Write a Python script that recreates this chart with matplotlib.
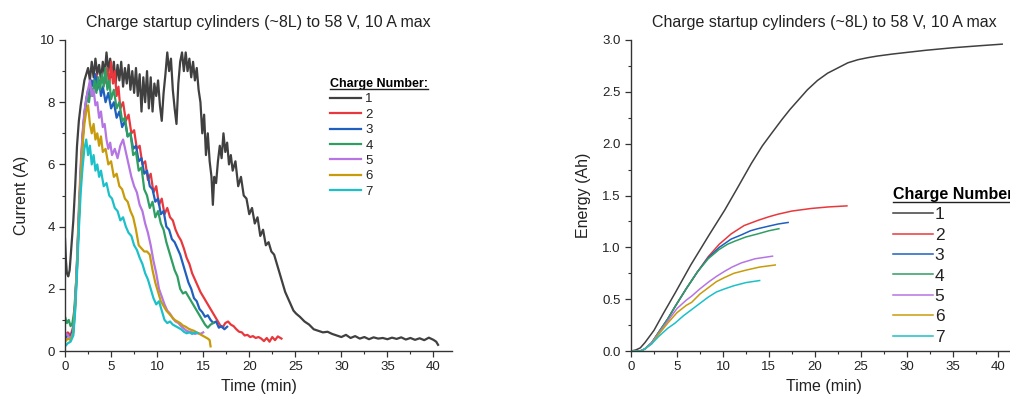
import matplotlib
matplotlib.use("Agg")
import matplotlib.pyplot as plt
from matplotlib.lines import Line2D
from matplotlib.ticker import MultipleLocator

plt.rcParams["font.family"] = ["Liberation Sans", "DejaVu Sans"]

TITLE = "Charge startup cylinders (~8L) to 58 V, 10 A max"
LABELS = ["1", "2", "3", "4", "5", "6", "7"]
COLORS = ["#404040", "#e8383d", "#1f5fc0", "#2f9e63", "#b575e3", "#c89b0a", "#1cc0c8"]

# ---- current traces (left panel) ----
t1 = [0.0, 0.1, 0.2, 0.35, 0.5, 0.7, 0.9, 1.1, 1.3, 1.5, 1.7, 1.9, 2.1, 2.3, 2.5, 2.7, 2.9, 3.1,
      3.3, 3.5, 3.7, 3.9, 4.1, 4.3, 4.5, 4.7, 4.9, 5.1, 5.3, 5.5, 5.7, 5.9, 6.1, 6.3, 6.5, 6.7,
      6.9, 7.1, 7.3, 7.5, 7.7, 7.9, 8.1, 8.3, 8.5, 8.7, 8.9, 9.1, 9.3, 9.5, 9.7, 9.9, 10.1, 10.3,
      10.5, 10.7, 10.9, 11.1, 11.3, 11.5, 11.7, 11.9, 12.1, 12.3, 12.5, 12.7, 12.9, 13.1, 13.3,
      13.5, 13.7, 13.9, 14.1, 14.3, 14.5, 14.7, 14.9, 15.1, 15.3, 15.5, 15.7, 15.9, 16.05, 16.2,
      16.4, 16.6, 16.8, 17.0, 17.2, 17.4, 17.6, 17.8, 18.0, 18.2, 18.5, 18.8, 19.1, 19.4, 19.7,
      20.0, 20.3, 20.6, 20.9, 21.2, 21.5, 21.8, 22.1, 22.4, 22.7, 23.0, 23.3, 23.6, 23.9, 24.2,
      24.5, 24.8, 25.1, 25.5, 26.0, 26.5, 27.0, 27.5, 28.0, 28.5, 29.0, 29.5, 30.0, 30.5, 31.0,
      31.5, 32.0, 32.5, 33.0, 33.5, 34.0, 34.5, 35.0, 35.5, 36.0, 36.5, 37.0, 37.5, 38.0, 38.5,
      39.0, 39.5, 40.0, 40.3, 40.5]
i1 = [3.6, 2.9, 2.5, 2.4, 2.6, 3.4, 4.2, 5.3, 6.6, 7.4, 7.9, 8.3, 8.7, 8.9, 9.1, 8.7, 9.3, 8.8,
      9.4, 8.9, 9.2, 8.7, 9.3, 8.9, 9.6, 9.0, 9.4, 8.8, 9.3, 8.6, 9.2, 8.7, 9.3, 8.5, 9.1, 8.6,
      9.2, 8.4, 9.0, 8.3, 9.1, 8.2, 8.9, 7.7, 8.8, 8.0, 9.0, 7.8, 8.8, 7.7, 8.6, 8.2, 8.7, 7.9,
      7.4, 8.3, 8.9, 9.6, 9.0, 9.4, 8.4, 7.8, 7.3, 8.6, 9.3, 9.6, 9.0, 9.6, 9.0, 9.4, 8.8, 9.3,
      8.7, 9.1, 8.4, 8.0, 7.0, 7.6, 6.3, 7.0, 6.1, 5.6, 4.7, 5.6, 5.4, 6.1, 6.6, 6.2, 7.0, 6.4,
      6.7, 6.0, 6.3, 5.8, 6.1, 5.3, 5.6, 5.0, 4.9, 4.4, 4.6, 4.1, 4.3, 3.7, 3.9, 3.4, 3.5, 3.2,
      3.1, 2.8, 2.5, 2.2, 1.9, 1.7, 1.5, 1.3, 1.2, 1.1, 0.95, 0.85, 0.7, 0.65, 0.6, 0.62, 0.55,
      0.5, 0.45, 0.52, 0.42, 0.48, 0.4, 0.45, 0.38, 0.44, 0.4, 0.42, 0.38, 0.43, 0.39, 0.44, 0.37,
      0.42, 0.36, 0.41, 0.35, 0.43, 0.36, 0.3, 0.2]

t2 = [0.0, 0.3, 0.6, 0.9, 1.1, 1.3, 1.5, 1.7, 1.9, 2.1, 2.3, 2.5, 2.8, 3.1, 3.4, 3.7, 4.0, 4.3,
      4.6, 4.8, 5.0, 5.2, 5.4, 5.6, 5.8, 6.0, 6.3, 6.6, 6.9, 7.2, 7.5, 7.8, 8.1, 8.4, 8.7, 9.0,
      9.3, 9.6, 9.9, 10.2, 10.5, 10.8, 11.1, 11.4, 11.7, 12.0, 12.3, 12.6, 12.9, 13.2, 13.5, 13.8,
      14.1, 14.4, 14.7, 15.0, 15.3, 15.6, 15.9, 16.2, 16.5, 16.8, 17.1, 17.4, 17.7, 18.0, 18.3,
      18.6, 18.9, 19.2, 19.5, 19.8, 20.1, 20.4, 20.7, 21.0, 21.3, 21.6, 21.9, 22.2, 22.5, 22.8,
      23.1, 23.5]
i2 = [0.5, 0.6, 0.5, 0.8, 1.6, 2.8, 4.4, 5.8, 6.9, 7.6, 8.0, 8.3, 8.5, 8.6, 8.9, 8.5, 8.8, 8.6,
      9.1, 8.5, 9.3, 8.6, 9.0, 8.2, 8.5, 7.8, 8.0, 7.4, 7.6, 7.0, 7.1, 6.5, 6.6, 6.0, 6.1, 5.5,
      5.7, 5.1, 5.3, 4.7, 4.9, 4.4, 4.6, 4.3, 4.2, 3.9, 3.7, 3.55, 3.3, 3.0, 2.8, 2.5, 2.3, 2.1,
      1.9, 1.75, 1.6, 1.45, 1.3, 1.15, 1.0, 0.85, 0.75, 0.9, 0.95, 0.85, 0.8, 0.7, 0.62, 0.6, 0.5,
      0.52, 0.45, 0.48, 0.42, 0.45, 0.4, 0.32, 0.42, 0.3, 0.45, 0.35, 0.47, 0.4]

t3 = [0.0, 0.3, 0.6, 0.9, 1.1, 1.3, 1.5, 1.7, 1.9, 2.1, 2.3, 2.5, 2.7, 2.9, 3.1, 3.3, 3.5, 3.7,
      3.9, 4.1, 4.4, 4.7, 5.0, 5.3, 5.6, 5.9, 6.2, 6.5, 6.8, 7.1, 7.4, 7.7, 8.0, 8.3, 8.6, 8.9,
      9.2, 9.5, 9.8, 10.1, 10.4, 10.7, 11.0, 11.3, 11.6, 11.9, 12.2, 12.5, 12.8, 13.1, 13.4, 13.7,
      14.0, 14.3, 14.6, 14.9, 15.2, 15.5, 15.8, 16.1, 16.4, 16.7, 17.0, 17.3, 17.6]
i3 = [0.4, 0.5, 0.45, 0.7, 1.5, 2.7, 4.2, 5.6, 6.8, 7.6, 8.1, 8.4, 8.2, 8.7, 8.5, 8.9, 8.4, 8.7,
      8.2, 8.5, 8.0, 8.3, 7.8, 8.0, 7.5, 7.7, 7.2, 7.4, 6.9, 7.0, 6.5, 6.6, 6.1, 6.2, 5.7, 5.8,
      5.3, 5.2, 4.8, 4.9, 4.4, 4.5, 4.0, 3.9, 3.6, 3.5, 3.3, 3.1, 2.8, 2.5, 2.2, 2.0, 1.7, 1.6,
      1.35, 1.25, 1.1, 1.15, 1.0, 0.9, 0.95, 0.75, 0.8, 0.7, 0.78]

t4 = [0.0, 0.2, 0.4, 0.6, 0.8, 1.0, 1.2, 1.4, 1.6, 1.8, 2.0, 2.2, 2.4, 2.6, 2.8, 3.0, 3.2, 3.4,
      3.6, 3.8, 4.0, 4.2, 4.4, 4.6, 4.8, 5.0, 5.3, 5.6, 5.9, 6.2, 6.5, 6.8, 7.1, 7.4, 7.7, 8.0,
      8.3, 8.6, 8.9, 9.2, 9.5, 9.8, 10.1, 10.4, 10.7, 11.0, 11.3, 11.6, 11.9, 12.2, 12.5, 12.8,
      13.1, 13.4, 13.7, 14.0, 14.3, 14.6, 14.9, 15.2, 15.5, 15.8, 16.1]
i4 = [1.1, 0.9, 1.0, 0.8, 0.9, 1.3, 2.2, 3.6, 5.0, 6.3, 7.2, 7.8, 8.2, 8.0, 8.5, 8.2, 8.7, 8.3,
      8.8, 8.4, 8.9, 8.5, 9.1, 8.4, 8.7, 8.1, 8.4, 7.8, 8.0, 7.4, 7.5, 6.9, 7.0, 6.3, 6.4, 5.8,
      5.9, 5.2, 5.0, 4.6, 4.8, 4.3, 4.5, 4.1, 3.9, 3.5, 3.2, 2.9, 2.6, 2.4, 2.0, 1.85, 1.9, 1.75,
      1.6, 1.45, 1.3, 1.15, 1.0, 0.85, 0.75, 0.85, 0.9]

t5 = [0.0, 0.3, 0.6, 0.9, 1.1, 1.3, 1.5, 1.7, 1.9, 2.1, 2.3, 2.5, 2.7, 2.9, 3.1, 3.3, 3.5, 3.7,
      3.9, 4.1, 4.3, 4.5, 4.7, 4.9, 5.1, 5.4, 5.7, 6.0, 6.3, 6.6, 6.9, 7.2, 7.5, 7.8, 8.1, 8.4,
      8.7, 9.0, 9.3, 9.6, 9.9, 10.2, 10.5, 10.8, 11.1, 11.4, 11.7, 12.0, 12.3, 12.6, 12.9, 13.2,
      13.5, 13.8, 14.1, 14.4, 14.7, 15.0]
i5 = [0.6, 0.5, 0.4, 0.6, 1.5, 2.9, 4.6, 6.0, 7.0, 7.7, 8.1, 8.4, 8.7, 8.2, 8.4, 7.9, 8.0, 7.5,
      7.7, 7.2, 7.3, 6.8, 6.5, 6.7, 6.3, 6.5, 6.2, 6.6, 6.8, 6.4, 6.0, 5.6, 5.3, 5.1, 4.7, 4.5,
      4.1, 3.8, 3.4, 2.9, 2.5, 2.0, 1.75, 1.5, 1.3, 1.2, 1.05, 0.95, 0.9, 0.8, 0.72, 0.65, 0.62,
      0.6, 0.55, 0.58, 0.55, 0.6]

t6 = [0.0, 0.3, 0.6, 0.9, 1.1, 1.3, 1.5, 1.7, 1.9, 2.1, 2.3, 2.5, 2.7, 2.9, 3.1, 3.3, 3.5, 3.7,
      3.9, 4.1, 4.4, 4.7, 5.0, 5.3, 5.6, 5.9, 6.2, 6.5, 6.8, 7.1, 7.4, 7.7, 8.0, 8.3, 8.6, 8.9,
      9.2, 9.5, 9.8, 10.1, 10.4, 10.7, 11.0, 11.3, 11.6, 11.9, 12.2, 12.5, 12.8, 13.1, 13.4, 13.7,
      14.0, 14.3, 14.6, 14.9, 15.2, 15.5, 15.7, 15.8]
i6 = [0.3, 0.4, 0.35, 0.6, 1.4, 2.7, 4.3, 5.6, 6.6, 7.3, 7.7, 7.9, 7.3, 7.0, 7.3, 6.8, 7.0, 6.6,
      6.9, 6.4, 6.5, 6.0, 6.1, 5.6, 5.7, 5.3, 5.2, 4.9, 4.8, 4.5, 4.3, 3.9, 3.4, 3.3, 3.2, 3.2,
      3.1, 2.6, 2.2, 1.9, 1.6, 1.45, 1.3, 1.2, 1.1, 1.0, 0.95, 0.9, 0.82, 0.78, 0.72, 0.68, 0.65,
      0.6, 0.55, 0.5, 0.45, 0.4, 0.35, 0.15]

t7 = [0.0, 0.3, 0.6, 0.9, 1.1, 1.3, 1.5, 1.7, 1.9, 2.1, 2.3, 2.5, 2.7, 2.9, 3.1, 3.3, 3.5, 3.7,
      3.9, 4.2, 4.5, 4.8, 5.1, 5.4, 5.7, 6.0, 6.3, 6.6, 6.9, 7.2, 7.5, 7.8, 8.1, 8.4, 8.7, 9.0,
      9.3, 9.6, 9.9, 10.2, 10.5, 10.8, 11.1, 11.4, 11.7, 12.0, 12.3, 12.6, 12.9, 13.2, 13.5, 13.8,
      14.1, 14.4]
i7 = [0.15, 0.25, 0.3, 0.5, 1.3, 2.5, 3.9, 5.1, 5.9, 6.5, 6.8, 6.3, 6.6, 6.0, 6.3, 5.8, 6.0, 5.6,
      5.8, 5.3, 5.4, 5.0, 4.9, 4.6, 4.5, 4.2, 4.3, 4.0, 3.8, 3.7, 3.4, 3.25, 3.0, 2.8, 2.5, 2.3,
      2.0, 1.7, 1.5, 1.6, 1.3, 1.0, 0.9, 0.95, 0.85, 0.8, 0.75, 0.7, 0.62, 0.57, 0.6, 0.55, 0.6,
      0.58]

# ---- accumulated charge (right panel) ----
et1 = [0.0, 0.5, 1.0, 1.5, 2.5, 3.5, 4.8, 6.5, 8.5, 10.2, 11.5, 13.1, 14.3, 15.3, 16.4, 17.3,
       18.2, 19.2, 20.3, 21.4, 22.5, 23.6, 24.7, 25.8, 26.8, 28.5, 30.0, 32.0, 35.0, 38.0, 40.4]
e1 = [0.0, 0.01, 0.03, 0.08, 0.2, 0.36, 0.56, 0.83, 1.12, 1.36, 1.56, 1.81, 1.98, 2.10, 2.23,
      2.33, 2.42, 2.52, 2.61, 2.68, 2.73, 2.78, 2.81, 2.83, 2.845, 2.865, 2.88, 2.90, 2.925,
      2.945, 2.96]
et2 = [0.0, 1.0, 1.5, 2.25, 3.0, 4.0, 4.8, 6.0, 7.2, 8.4, 9.6, 10.9, 12.3, 13.8, 15.0, 16.0,
       17.5, 19.6, 21.5, 23.5]
e2 = [0.0, 0.0, 0.02, 0.08, 0.18, 0.31, 0.43, 0.6, 0.76, 0.91, 1.03, 1.13, 1.21, 1.26, 1.295,
      1.32, 1.35, 1.375, 1.39, 1.40]
et3 = [0.0, 1.0, 1.5, 2.25, 3.0, 4.0, 4.8, 6.0, 7.2, 8.4, 9.6, 10.9, 12.0, 13.0, 13.8, 15.0,
       16.0, 17.1]
e3 = [0.0, 0.0, 0.02, 0.08, 0.18, 0.31, 0.43, 0.6, 0.76, 0.9, 1.0, 1.08, 1.12, 1.16, 1.18, 1.205,
      1.225, 1.24]
et4 = [0.0, 1.0, 1.5, 2.25, 3.0, 4.0, 4.8, 6.0, 7.2, 8.4, 9.6, 10.5, 11.3, 12.5, 13.8, 15.0,
       16.1]
e4 = [0.0, 0.0, 0.02, 0.08, 0.18, 0.31, 0.43, 0.6, 0.76, 0.89, 0.98, 1.03, 1.06, 1.1, 1.13, 1.16,
      1.18]
et5 = [0.0, 1.0, 1.5, 2.25, 3.0, 4.0, 5.0, 6.0, 6.6, 7.5, 8.5, 9.3, 10.2, 11.0, 12.0, 13.5,
       15.4]
e5 = [0.0, 0.0, 0.02, 0.08, 0.17, 0.29, 0.41, 0.49, 0.53, 0.6, 0.67, 0.72, 0.77, 0.81, 0.85, 0.89,
      0.915]
et6 = [0.0, 1.0, 1.5, 2.25, 3.0, 4.0, 5.0, 6.0, 6.6, 7.5, 8.4, 9.3, 10.2, 11.2, 12.5, 14.0, 15.7]
e6 = [0.0, 0.0, 0.02, 0.07, 0.16, 0.27, 0.37, 0.44, 0.47, 0.55, 0.61, 0.67, 0.71, 0.75, 0.78,
      0.81, 0.83]
et7 = [0.0, 1.0, 1.5, 2.25, 3.0, 4.0, 4.8, 5.7, 6.6, 7.5, 8.4, 9.3, 10.2, 11.2, 12.5, 14.0]
e7 = [0.0, 0.0, 0.02, 0.07, 0.14, 0.22, 0.27, 0.34, 0.40, 0.46, 0.52, 0.57, 0.6, 0.63, 0.66, 0.68]

current = [(t1, i1), (t2, i2), (t3, i3), (t4, i4), (t5, i5), (t6, i6), (t7, i7)]
charge = [(et1, e1), (et2, e2), (et3, e3), (et4, e4), (et5, e5), (et6, e6), (et7, e7)]

TXT = "#222222"


def style_axes(ax):
    for side in ("top", "right"):
        ax.spines[side].set_visible(False)
    for side in ("left", "bottom"):
        ax.spines[side].set_color("#333333")
        ax.spines[side].set_linewidth(1.0)
    ax.tick_params(which="major", direction="out", length=4, width=0.9,
                   colors="#333333", labelsize=9.5, labelcolor=TXT)
    ax.tick_params(which="minor", direction="out", length=2.2, width=0.8, colors="#333333")
    ax.xaxis.set_major_locator(MultipleLocator(5))
    ax.xaxis.set_minor_locator(MultipleLocator(2.5))
    ax.set_xlim(0, 42)
    ax.set_xlabel("Time (min)", fontsize=11.5, color=TXT, labelpad=4)
    ax.set_title(TITLE, fontsize=11.5, color=TXT, pad=9)


def underline_title(fig, leg):
    fig.canvas.draw()
    bb = leg.get_title().get_window_extent(fig.canvas.get_renderer())
    inv = fig.transFigure.inverted()
    (x0, y0), (x1, _) = inv.transform([(bb.x0, bb.y0 + 0.5), (bb.x1, bb.y0)])
    fig.add_artist(Line2D([x0, x1], [y0, y0], transform=fig.transFigure,
                          color=TXT, lw=1.0))


fig = plt.figure(figsize=(10.1, 3.98), dpi=100)
ax1 = fig.add_axes([0.0644, 0.118, 0.383, 0.7815])
ax2 = fig.add_axes([0.6248, 0.118, 0.382, 0.7815])

for (t, cur), c, lab in zip(current, COLORS, LABELS):
    ax1.plot(t, cur, color=c, lw=1.6, label=lab)
style_axes(ax1)
ax1.set_ylim(0, 10)
ax1.yaxis.set_major_locator(MultipleLocator(2))
ax1.yaxis.set_minor_locator(MultipleLocator(1))
ax1.set_ylabel("Current (A)", fontsize=11.5, color=TXT, labelpad=8)
leg1 = ax1.legend(loc="upper left", bbox_to_anchor=(0.684, 0.878), frameon=False,
                  title="Charge Number:", fontsize=9.5, handlelength=2.4,
                  handletextpad=0.3, labelspacing=0.24, borderpad=0, borderaxespad=0,
                  title_fontproperties={"weight": "bold", "size": 9})
leg1._legend_box.align = "left"
for txt in leg1.get_texts():
    txt.set_color(TXT)

for (t, e), c, lab in zip(charge, COLORS, LABELS):
    ax2.plot(t, e, color=c, lw=1.1, label=lab)
style_axes(ax2)
ax2.set_ylim(0, 3.0)
ax2.yaxis.set_major_locator(MultipleLocator(0.5))
ax2.yaxis.set_minor_locator(MultipleLocator(0.25))
ax2.yaxis.set_major_formatter(matplotlib.ticker.FormatStrFormatter("%.1f"))
ax2.set_ylabel("Energy (Ah)", fontsize=11.5, color=TXT, labelpad=8)
leg2 = ax2.legend(loc="upper left", bbox_to_anchor=(0.679, 0.527), frameon=False,
                  title="Charge Number:", fontsize=12.5, handlelength=2.3,
                  handletextpad=0.1, labelspacing=0.3, borderpad=0, borderaxespad=0,
                  title_fontproperties={"weight": "bold", "size": 11.5})
leg2._legend_box.align = "left"
for txt in leg2.get_texts():
    txt.set_color(TXT)

underline_title(fig, leg1)
underline_title(fig, leg2)

fig.savefig("out.png", dpi=100)
